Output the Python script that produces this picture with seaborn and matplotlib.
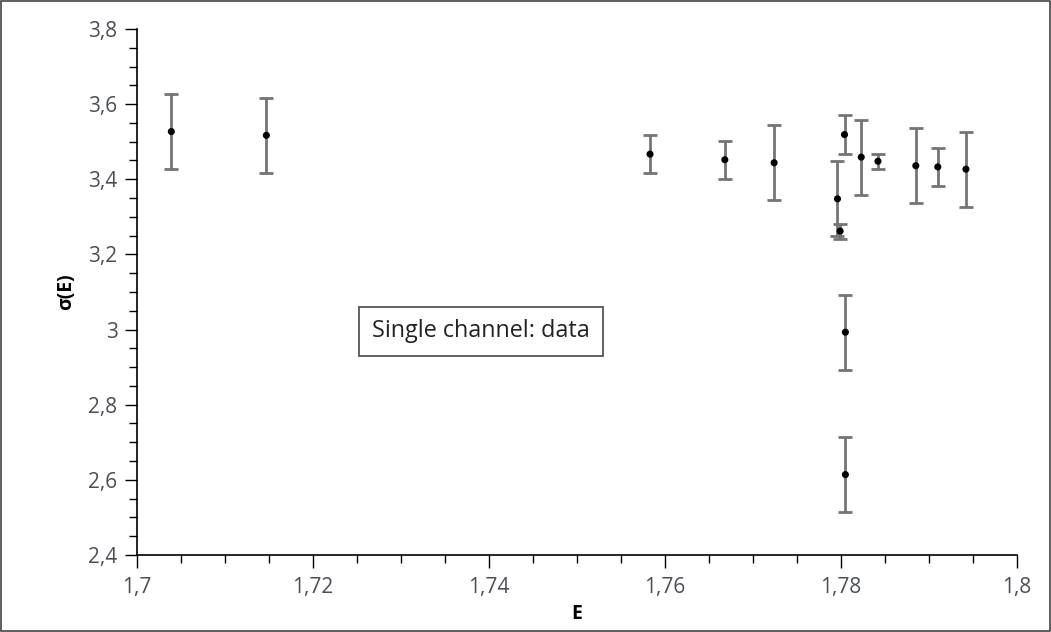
import matplotlib
matplotlib.use("Agg")
import matplotlib.pyplot as plt
import seaborn as sns
import pandas as pd
from matplotlib.ticker import MultipleLocator, FuncFormatter

energy = [1.7039, 1.7147, 1.7583, 1.7668, 1.7724, 1.7796, 1.7799, 1.7804,
          1.7823, 1.7842, 1.7885, 1.7910, 1.7942, 1.7805, 1.7805]
sigma = [3.527, 3.517, 3.467, 3.452, 3.444, 3.348, 3.262, 3.519,
         3.459, 3.448, 3.436, 3.433, 3.427, 2.993, 2.614]
sigma_err = [0.100, 0.100, 0.051, 0.051, 0.100, 0.100, 0.020, 0.051,
             0.100, 0.020, 0.100, 0.051, 0.100, 0.100, 0.100]

df = pd.DataFrame({"E": energy, "sigma": sigma, "err": sigma_err})

sns.set_theme(style="white")
plt.rcParams["font.family"] = ["Open Sans", "DejaVu Sans"]

fig = plt.figure(figsize=(10.51, 6.32), dpi=100)
ax = fig.add_axes([137 / 1051, 1 - 555 / 632, 880 / 1051, 526 / 632])

ax.errorbar(df["E"], df["sigma"], yerr=df["err"], fmt="none",
            ecolor="#747474", elinewidth=2.0, capsize=5, capthick=2.0, zorder=2)
sns.scatterplot(data=df, x="E", y="sigma", color="black", s=26,
                edgecolor="none", ax=ax, zorder=3)

ax.set_xlim(1.7, 1.8)
ax.set_ylim(2.4, 3.8)
ax.xaxis.set_major_locator(MultipleLocator(0.02))
ax.xaxis.set_minor_locator(MultipleLocator(0.005))
ax.yaxis.set_major_locator(MultipleLocator(0.2))
ax.yaxis.set_minor_locator(MultipleLocator(0.05))


def comma_fmt(v, pos):
    s = ("%.3f" % v).rstrip("0").rstrip(".")
    return s.replace(".", ",")


ax.xaxis.set_major_formatter(FuncFormatter(comma_fmt))
ax.yaxis.set_major_formatter(FuncFormatter(comma_fmt))

for side in ("top", "right"):
    ax.spines[side].set_visible(False)
for side in ("left", "bottom"):
    ax.spines[side].set_color("black")
    ax.spines[side].set_linewidth(1.2)

ax.tick_params(axis="x", which="major", pad=7)
ax.tick_params(axis="y", which="major", pad=5)
ax.tick_params(axis="both", which="major", direction="out", length=9,
               width=1, color="black", labelsize=15, labelcolor="#4a4f57",
               bottom=True, left=True)
ax.tick_params(axis="both", which="minor", direction="out", length=5.5,
               width=1, color="black", bottom=True, left=True)

ax.set_xlabel("E", fontsize=14, fontweight="bold", color="black", labelpad=4)
ax.set_ylabel("σ(E)", fontsize=14, fontweight="bold", color="black", labelpad=9)

ax.text(0.391, 0.425, "Single channel: data", transform=ax.transAxes,
        ha="center", va="center", fontsize=16.8, color="#222222",
        bbox=dict(boxstyle="square,pad=0.55", facecolor="white",
                  edgecolor="#555555", linewidth=1.3))

fig.patches.append(plt.Rectangle((0.001, 0.001), 0.998, 0.998,
                                 transform=fig.transFigure, fill=False,
                                 edgecolor="#444444", linewidth=1.2))

fig.savefig("out.png", dpi=100)
